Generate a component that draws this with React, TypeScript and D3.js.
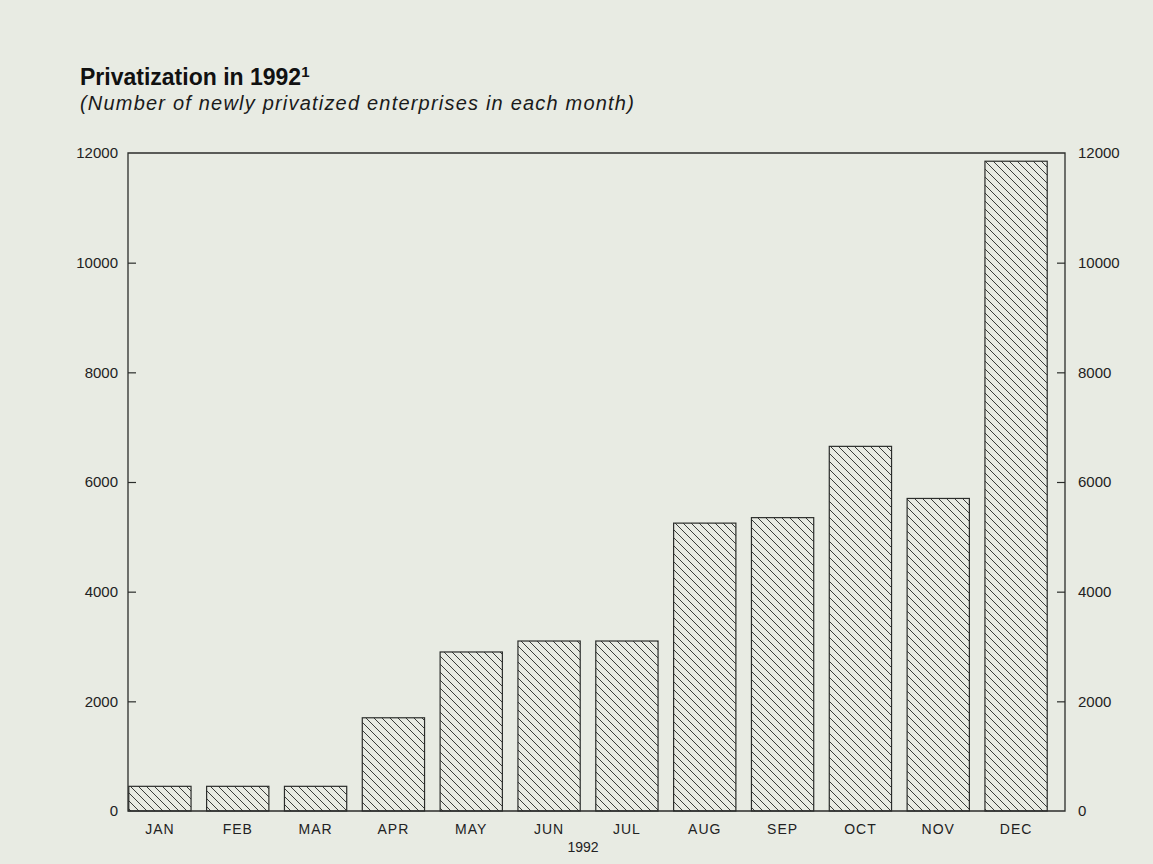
import { useEffect, useRef } from 'react';
import * as d3 from 'd3';

const months = ['JAN', 'FEB', 'MAR', 'APR', 'MAY', 'JUN', 'JUL', 'AUG', 'SEP', 'OCT', 'NOV', 'DEC'];
const enterprises = [450, 450, 450, 1700, 2900, 3100, 3100, 5250, 5350, 6650, 5700, 11850];
const yTicks = [0, 2000, 4000, 6000, 8000, 10000, 12000];

const W = 1153;
const H = 864;
const frame = { left: 128, right: 1065, top: 153, bottom: 811 };

export default function App() {
  const svgRef = useRef<SVGSVGElement | null>(null);

  useEffect(() => {
    if (!svgRef.current) return;
    const svg = d3.select(svgRef.current);
    svg.selectAll('*').remove();

    // paper background
    svg.append('rect').attr('width', W).attr('height', H).attr('fill', '#e8ebe3');

    const defs = svg.append('defs');
    defs.append('pattern')
      .attr('id', 'hatch')
      .attr('patternUnits', 'userSpaceOnUse')
      .attr('width', 8)
      .attr('height', 8)
      .append('path')
      .attr('d', 'M0,0 L8,8 M-4,4 L4,12 M4,-4 L12,4')
      .attr('stroke', '#3a3c3a')
      .attr('stroke-width', 1);

    const x = d3.scaleBand<string>()
      .domain(months)
      .range([121, 1055])
      .paddingInner(0.2)
      .paddingOuter(0.1);

    const y = d3.scaleLinear()
      .domain([0, 12000])
      .range([frame.bottom, frame.top]);

    const ink = '#2b2d2b';
    const font = '"Liberation Sans", Arial, sans-serif';

    // title
    const title = svg.append('text')
      .attr('x', 80)
      .attr('y', 85)
      .attr('font-family', font)
      .attr('font-weight', 'bold')
      .attr('font-size', 23)
      .attr('fill', '#111');
    title.append('tspan').text('Privatization in 1992');
    title.append('tspan').attr('dy', -8).attr('font-size', 15).text('1');

    svg.append('text')
      .attr('x', 80)
      .attr('y', 110)
      .attr('font-family', font)
      .attr('font-style', 'italic')
      .attr('font-size', 20)
      .attr('letter-spacing', 1.2)
      .attr('fill', '#1a1a1a')
      .text('(Number of newly privatized enterprises in each month)');

    // bars
    svg.append('g')
      .selectAll('rect')
      .data(enterprises)
      .enter()
      .append('rect')
      .attr('x', (_, i) => x(months[i]) as number)
      .attr('y', d => y(d))
      .attr('width', x.bandwidth())
      .attr('height', d => y(0) - y(d))
      .attr('fill', 'url(#hatch)')
      .attr('stroke', ink)
      .attr('stroke-width', 1.2);

    // frame
    svg.append('path')
      .attr('d', `M${frame.left},${frame.bottom} V${frame.top} H${frame.right} V${frame.bottom} Z`)
      .attr('fill', 'none')
      .attr('stroke', ink)
      .attr('stroke-width', 1.3);

    // left axis
    const left = svg.append('g')
      .attr('transform', `translate(${frame.left},0)`)
      .call(d3.axisLeft(y).tickValues(yTicks).tickSizeInner(-8).tickSizeOuter(0).tickPadding(10).tickFormat(d3.format('d')));
    left.select('.domain').remove();

    // right axis
    const right = svg.append('g')
      .attr('transform', `translate(${frame.right},0)`)
      .call(d3.axisRight(y).tickValues(yTicks).tickSizeInner(-8).tickSizeOuter(0).tickPadding(13).tickFormat(d3.format('d')));
    right.select('.domain').remove();

    [left, right].forEach(g => {
      g.selectAll('line')
        .attr('stroke', ink)
        .attr('stroke-width', 1.2)
        .filter(d => d === 0 || d === 12000)
        .remove();
      g.selectAll('text')
        .attr('font-family', font)
        .attr('font-size', 15)
        .attr('fill', '#222');
    });

    // bottom axis labels
    const bottom = svg.append('g')
      .attr('transform', `translate(0,${frame.bottom})`)
      .call(d3.axisBottom(x).tickSize(0).tickPadding(13));
    bottom.select('.domain').remove();
    bottom.selectAll('text')
      .attr('font-family', font)
      .attr('font-size', 14)
      .attr('letter-spacing', 1)
      .attr('fill', '#222');

    svg.append('text')
      .attr('x', 583)
      .attr('y', 852)
      .attr('text-anchor', 'middle')
      .attr('font-family', font)
      .attr('font-size', 14)
      .attr('fill', '#222')
      .text('1992');
  }, []);

  return (
    <svg
      ref={svgRef}
      width={W}
      height={H}
      style={{ position: 'absolute', left: 0, top: 0, display: 'block' }}
    />
  );
}
